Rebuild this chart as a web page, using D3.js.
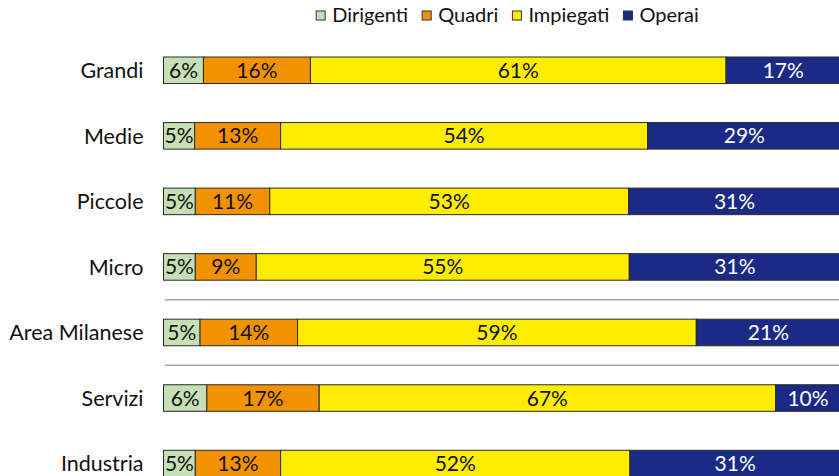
<!DOCTYPE html>
<html>
<head>
<meta charset="utf-8">
<script src="https://cdn.jsdelivr.net/npm/d3@7"></script>
<style>
  body { margin: 0; background: #fff; }
  svg { display: block; font-family: Lato, "Noto Sans", sans-serif; }
</style>
</head>
<body>
<div id="wrapper"></div>
<script>
const categories = ["Grandi", "Medie", "Piccole", "Micro", "Area Milanese", "Servizi", "Industria"]
const seriesNames = ["Dirigenti", "Quadri", "Impiegati", "Operai"]
const dirigenti = [5.9, 4.6, 4.7, 4.7, 5.4, 6.4, 4.7]
const quadri    = [15.8, 12.7, 11.0, 9.0, 14.4, 16.6, 12.6]
const impiegati = [61.4, 54.2, 53.0, 55.1, 58.9, 67.4, 51.6]
const operai    = [16.9, 28.6, 31.3, 31.2, 21.3, 9.6, 31.1]
// separators drawn after these groups
const separatorsAfter = ["Micro", "Area Milanese"]

const colors = ["#c5e0b4", "#f39200", "#ffed00", "#1b2a84"]
const textColors = ["#111", "#111", "#111", "#fff"]

const dimensions = {
  width: 839,
  height: 476,
  left: 163.5,
  right: 840.5
}

const rows = categories.map((c, i) => ({
  category: c,
  Dirigenti: dirigenti[i],
  Quadri: quadri[i],
  Impiegati: impiegati[i],
  Operai: operai[i]
}))

const stacked = d3.stack().keys(seriesNames)(rows)

const svg = d3.select("#wrapper")
  .append("svg")
    .attr("width", dimensions.width)
    .attr("height", dimensions.height)

const xScale = d3.scaleLinear()
    .domain([0, 100])
    .range([dimensions.left, dimensions.right])

const step = 65.55
const padIn = 0.595
const padOut = 0.3
const y0 = 57 - padOut * step
const yScale = d3.scaleBand()
    .domain(categories)
    .range([y0, y0 + step * (categories.length - padIn + 2 * padOut)])
    .paddingInner(padIn)
    .paddingOuter(padOut)

// separators
svg.append("g")
  .selectAll("line")
  .data(separatorsAfter)
  .join("line")
    .attr("x1", 165)
    .attr("x2", dimensions.width)
    .attr("y1", d => yScale(d) + yScale.bandwidth() / 2 + yScale.step() / 2)
    .attr("y2", d => yScale(d) + yScale.bandwidth() / 2 + yScale.step() / 2)
    .attr("stroke", "#a6a6a6")
    .attr("stroke-width", 1.5)

const layers = svg.append("g")
  .selectAll("g")
  .data(stacked)
  .join("g")
    .attr("fill", (d, i) => colors[i])

layers.selectAll("rect")
  .data(d => d)
  .join("rect")
    .attr("x", d => xScale(d[0]))
    .attr("y", d => yScale(d.data.category))
    .attr("width", d => xScale(d[1]) - xScale(d[0]))
    .attr("height", yScale.bandwidth())
    .attr("stroke", "#2a2a2a")
    .attr("stroke-width", 1)

const fmt = d3.format(".0f")
layers.selectAll("text")
  .data((d, i) => d.map(s => ({ s, i })))
  .join("text")
    .attr("x", d => (xScale(d.s[0]) + xScale(d.s[1])) / 2)
    .attr("y", d => yScale(d.s.data.category) + yScale.bandwidth() / 2 + 7.5)
    .attr("text-anchor", "middle")
    .attr("font-size", 21)
    .attr("fill", d => textColors[d.i])
    .text(d => fmt(d.s[1] - d.s[0]) + "%")

// category labels
const yAxis = svg.append("g")
    .attr("transform", `translate(${dimensions.left - 20},0)`)
    .call(d3.axisLeft(yScale).tickSize(0).tickPadding(0))
yAxis.select(".domain").remove()
yAxis.selectAll("text")
    .attr("font-size", 21.5)
    .attr("font-family", "Lato, 'Noto Sans', sans-serif")
    .attr("fill", "#111")
    .attr("dy", "0.36em")

// legend
const legend = svg.append("g")
const items = legend.selectAll("g")
  .data(seriesNames)
  .join("g")
items.append("rect")
    .attr("y", 11)
    .attr("width", 9)
    .attr("height", 9)
    .attr("fill", (d, i) => colors[i])
    .attr("stroke", "#333")
    .attr("stroke-width", 1)
items.append("text")
    .attr("x", 16)
    .attr("y", 21.5)
    .attr("font-size", 20)
    .attr("fill", "#111")
    .text(d => d)

let cursor = 0
items.each(function() {
  const g = d3.select(this)
  g.attr("transform", `translate(${cursor},0)`)
  cursor += 16 + g.select("text").node().getComputedTextLength() + 14
})
const legendWidth = cursor - 14
legend.attr("transform", `translate(${507.5 - legendWidth / 2},0)`)
</script>
</body>
</html>
